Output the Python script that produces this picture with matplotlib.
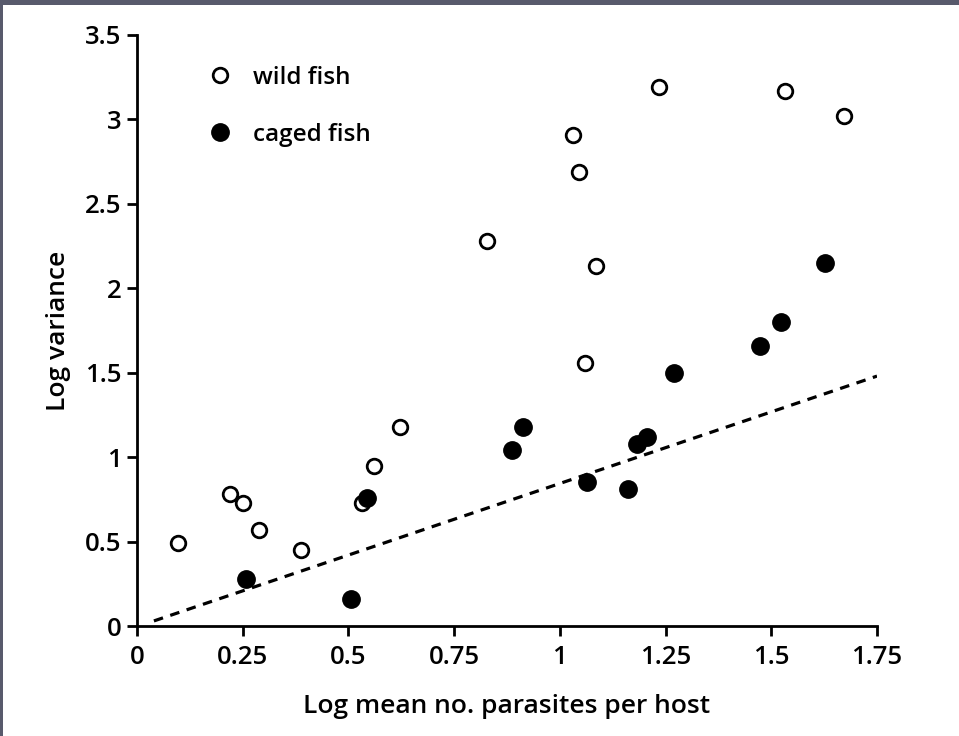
import matplotlib
matplotlib.use("Agg")
import matplotlib.pyplot as plt
from matplotlib.patches import Rectangle
from matplotlib.lines import Line2D

# Data
wild_x = [0.097, 0.220, 0.251, 0.289, 0.388, 0.533, 0.561, 0.623, 0.828, 1.032,
          1.046, 1.086, 1.060, 1.235, 1.533, 1.673]
wild_y = [0.49, 0.78, 0.73, 0.57, 0.45, 0.73, 0.95, 1.18, 2.28, 2.91,
          2.69, 2.13, 1.56, 3.19, 3.17, 3.02]
caged_x = [0.258, 0.506, 0.544, 0.888, 0.914, 1.065, 1.162, 1.183, 1.207, 1.269,
           1.473, 1.522, 1.628]
caged_y = [0.28, 0.16, 0.76, 1.04, 1.18, 0.85, 0.81, 1.08, 1.12, 1.50,
           1.66, 1.80, 2.15]
line_x = [0.04, 1.75]
line_y = [0.03, 1.48]

xticks = [0, 0.25, 0.5, 0.75, 1, 1.25, 1.5, 1.75]
xticklabels = ["0", "0.25", "0.5", "0.75", "1", "1.25", "1.5", "1.75"]
yticks = [0, 0.5, 1, 1.5, 2, 2.5, 3, 3.5]
yticklabels = ["0", "0.5", "1", "1.5", "2", "2.5", "3", "3.5"]

plt.rcParams['font.family'] = ['Open Sans', 'DejaVu Sans']
plt.rcParams['font.weight'] = 'semibold'
plt.rcParams['axes.labelweight'] = 'semibold'

fig = plt.figure(figsize=(9.59, 7.36), dpi=100, facecolor='white')
ax = fig.add_axes([137/959, 110/736, 740/959, 591/736])

# scanner border
fig.patches.append(Rectangle((0, 1 - 5/736), 1, 5/736, transform=fig.transFigure,
                             facecolor='#585a6c', edgecolor='none', zorder=0))
fig.patches.append(Rectangle((0, 0), 3/959, 1, transform=fig.transFigure,
                             facecolor='#585a6c', edgecolor='none', zorder=0))

ax.plot(line_x, line_y, linestyle=(0, (3.0, 2.4)), color='black', lw=2.3, zorder=1)
ax.plot(wild_x, wild_y, linestyle='none', marker='o', markersize=10.5,
        markerfacecolor='white', markeredgecolor='black', markeredgewidth=2.0,
        zorder=3, clip_on=False)
ax.plot(caged_x, caged_y, linestyle='none', marker='o', markersize=12.5,
        markerfacecolor='black', markeredgecolor='black', zorder=3, clip_on=False)

ax.set_xlim(0, 1.75)
ax.set_ylim(0, 3.5)
ax.set_xticks(xticks)
ax.set_xticklabels(xticklabels)
ax.set_yticks(yticks)
ax.set_yticklabels(yticklabels)

for s in ['top', 'right']:
    ax.spines[s].set_visible(False)
for s in ['left', 'bottom']:
    ax.spines[s].set_linewidth(2.0)

ax.tick_params(axis='x', direction='out', length=7, width=2.0, labelsize=18.5, pad=7)
ax.tick_params(axis='y', direction='out', length=7, width=2.0, labelsize=18.5, pad=4)

ax.set_xlabel("Log mean no. parasites per host", fontsize=19, labelpad=17)
ax.set_ylabel("Log variance", fontsize=19, labelpad=10)

handles = [
    Line2D([], [], linestyle='none', marker='o', markersize=10.5,
           markerfacecolor='white', markeredgecolor='black', markeredgewidth=2.0),
    Line2D([], [], linestyle='none', marker='o', markersize=12.5,
           markerfacecolor='black', markeredgecolor='black'),
]
ax.legend(handles, ["wild fish", "caged fish"], loc='upper left',
          bbox_to_anchor=(0.066, 0.985), frameon=False, fontsize=17.5,
          handlelength=1.0, handletextpad=0.85, labelspacing=1.35)

fig.savefig("out.png", dpi=100, facecolor='white')
